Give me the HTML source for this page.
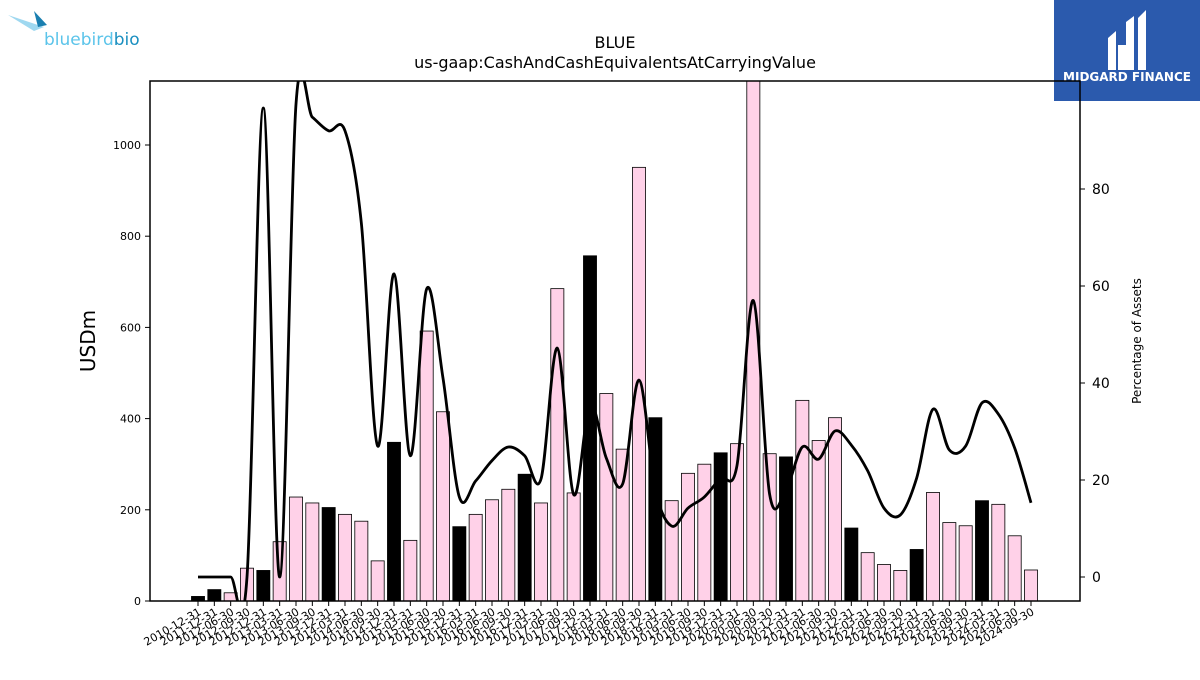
<!DOCTYPE html>
<html><head><meta charset="utf-8"><style>
body{margin:0;background:#fff;width:1200px;height:675px;overflow:hidden;font-family:"Liberation Sans","DejaVu Sans",sans-serif}
svg text{font-family:"DejaVu Sans","Liberation Sans",sans-serif}
</style></head><body>
<svg id="chart" width="1200" height="675" xmlns="http://www.w3.org/2000/svg">
  <g>
    <path d="M8,15 L44,27 L34,31 Z" fill="#9fd8f0"/>
    <path d="M34,11 L47,25 L38,27 Z" fill="#1a7fb0"/>
    <text x="44" y="45" font-size="17" fill="#5bc4ea" font-family="Liberation Sans, sans-serif">bluebird<tspan fill="#1a8fc0">bio</tspan></text>
  </g>
  <g>
    <rect x="1054" y="0" width="146" height="101" fill="#2b5aad"/>
    <path d="M1108,38 L1116,31 L1116,70 L1108,70 Z M1126,22 L1134,16 L1134,70 L1126,70 Z M1138,18 L1146,10 L1146,70 L1138,70 Z M1118,45 L1126,45 L1126,70 L1118,70 Z" fill="#fff"/>
    <text x="1127" y="81" font-size="12" font-weight="bold" fill="#fff" text-anchor="middle" font-family="Liberation Sans, sans-serif">MIDGARD FINANCE</text>
  </g>
  <text x="615" y="48" font-size="16" text-anchor="middle">BLUE</text>
  <text x="615" y="68" font-size="16" text-anchor="middle">us-gaap:CashAndCashEquivalentsAtCarryingValue</text>
  <defs><clipPath id="pc"><rect x="150" y="81" width="930" height="520"/></clipPath></defs>
  <g id="bars" clip-path="url(#pc)"></g>
  <g id="line" clip-path="url(#pc)"></g>
  <g id="axes"></g>
  <rect x="150" y="81" width="930" height="520" fill="none" stroke="#000" stroke-width="1.5"/>
  <text transform="translate(95,341) rotate(-90)" font-size="20" text-anchor="middle">USDm</text>
  <text transform="translate(1141,341) rotate(-90)" font-size="12" text-anchor="middle">Percentage of Assets</text>
</svg>
<script>
const dates=["2010-12-31","2011-12-31","2012-06-30","2012-09-30","2012-12-31","2013-03-31","2013-06-30","2013-09-30","2013-12-31","2014-03-31","2014-06-30","2014-09-30","2014-12-31","2015-03-31","2015-06-30","2015-09-30","2015-12-31","2016-03-31","2016-06-30","2016-09-30","2016-12-31","2017-03-31","2017-06-30","2017-09-30","2017-12-31","2018-03-31","2018-06-30","2018-09-30","2018-12-31","2019-03-31","2019-06-30","2019-09-30","2019-12-31","2020-03-31","2020-06-30","2020-09-30","2020-12-31","2021-03-31","2021-06-30","2021-09-30","2021-12-31","2022-03-31","2022-06-30","2022-09-30","2022-12-31","2023-03-31","2023-06-30","2023-09-30","2023-12-31","2024-03-31","2024-06-30","2024-09-30"];
const cash=[10,25,18,72,67,130,228,215,205,190,175,88,348,133,592,415,163,190,222,245,278,215,685,237,757,455,333,951,402,220,280,300,325,345,1150,323,316,440,352,402,160,106,80,67,113,238,172,165,220,212,143,68];
const pct=[0,0,0,0,96.7,0,97.5,94.8,92,92,73,27,62.5,25,59.4,41,16.5,19.8,24,26.8,25,20.2,47.2,17,35.5,24.5,19.2,40.6,18,10.5,14.2,16.5,20.4,23,57,17,18,26.8,24.3,30.1,27.2,21.9,14.2,12.8,20.4,34.6,26.2,27,35.9,33.6,26.6,15.3];
const leftTicks=[0,200,400,600,800,1000];
const rightTicks=[0,20,40,60,80];
const NS="http://www.w3.org/2000/svg";
const x0=198,x1=1031;
const step=(x1-x0)/(dates.length-1);
const xs=i=>x0+i*step;
const yL=v=>601-v*0.456;
const yR=v=>577-v*4.85;
function mk(t,a,p){const e=document.createElementNS(NS,t);for(const k in a)e.setAttribute(k,a[k]);p.appendChild(e);return e;}
const bars=document.getElementById('bars'),line=document.getElementById('line'),axes=document.getElementById('axes');
const bw=step*0.8;
cash.forEach((v,i)=>{
  const black=dates[i].endsWith('12-31');
  const r=mk('rect',{x:xs(i)-bw/2,y:yL(v),width:bw,height:601-yL(v),fill:black?'#000':'#ffd1e8',stroke:'#000','stroke-width':0.8},bars);
  
  
});
const pts=pct.map((v,i)=>[xs(i),yR(v)]);
let d='M'+pts[0][0]+','+pts[0][1];
for(let i=0;i<pts.length-1;i++){
  const p0=pts[Math.max(i-1,0)],p1=pts[i],p2=pts[i+1],p3=pts[Math.min(i+2,pts.length-1)];
  const c1=[p1[0]+(p2[0]-p0[0])/6,p1[1]+(p2[1]-p0[1])/6],c2=[p2[0]-(p3[0]-p1[0])/6,p2[1]-(p3[1]-p1[1])/6];
  d+=` C${c1[0]},${c1[1]} ${c2[0]},${c2[1]} ${p2[0]},${p2[1]}`;
}
const ln=mk('path',{d:d,fill:'none',stroke:'#000','stroke-width':2.8},line);


leftTicks.forEach(v=>{
  mk('line',{x1:145,x2:150,y1:yL(v),y2:yL(v),stroke:'#000'},axes);
  const t=mk('text',{x:141,y:yL(v)+4,'font-size':11,'text-anchor':'end'},axes);t.textContent=v;
  
  
});
rightTicks.forEach(v=>{
  mk('line',{x1:1080,x2:1085,y1:yR(v),y2:yR(v),stroke:'#000'},axes);
  const t=mk('text',{x:1092,y:yR(v)+5,'font-size':14},axes);t.textContent=v;
  
  
});
dates.forEach((s,i)=>{
  mk('line',{x1:xs(i),x2:xs(i),y1:601,y2:606,stroke:'#000'},axes);
  const t=mk('text',{transform:`translate(${xs(i)+4},${614}) rotate(-30)`,'font-size':11,'text-anchor':'end'},axes);t.textContent=s;
  
  
});
</script>
</body></html>
